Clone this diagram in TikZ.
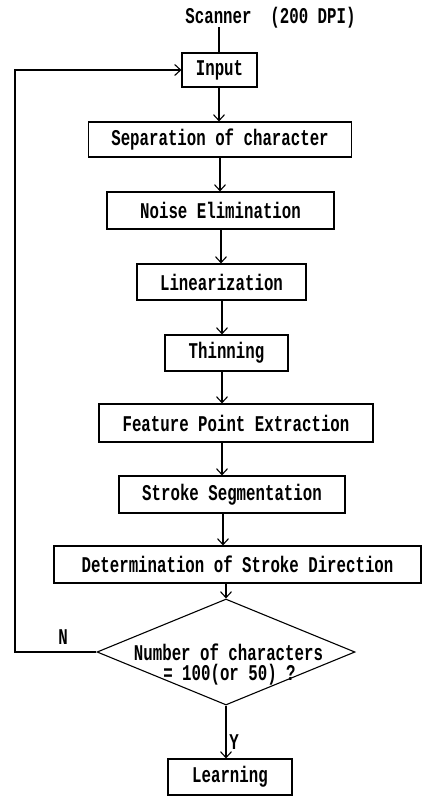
\documentclass[tikz,border=0pt]{standalone}
\usepackage{fontspec}
\setmainfont{Liberation Mono}[FakeStretch=0.7]
\usetikzlibrary{arrows.meta,shapes.geometric}
\tikzset{
  box/.style={draw, line width=1.1pt, inner sep=0pt, font=\fontsize{22.5}{17}\selectfont\bfseries},
  lbl/.style={inner sep=0pt, font=\fontsize{22.5}{19}\selectfont\bfseries},
  conn/.style={line width=1.1pt},
  arr/.style={conn, -{Straight Barb[length=6pt,width=11pt,line width=1.1pt]}}
}
\begin{document}
\begin{tikzpicture}[x=1pt,y=-1pt]
\useasboundingbox (0,0) rectangle (423,796);
\node[lbl] (scan) at (270.5,18) {Scanner\ \ (200 DPI)};
\node[box, minimum width=75, minimum height=34] (inp) at (219.5,70) {Input};
\node[box, minimum width=263, minimum height=35] (sep) at (220,139.5) {Separation of character};
\node[box, minimum width=227, minimum height=37] (noise) at (220.5,210.5) {Noise Elimination};
\node[box, minimum width=169, minimum height=36] (lin) at (221.5,282) {Linearization};
\node[box, minimum width=123, minimum height=36] (thin) at (226.5,353) {Thinning};
\node[box, minimum width=274, minimum height=38] (feat) at (236,423) {Feature Point Extraction};
\node[box, minimum width=226, minimum height=37] (strk) at (232,494.5) {Stroke Segmentation};
\node[box, minimum width=367, minimum height=37] (det) at (237.5,564.5) {Determination of Stroke Direction};
\node[draw, diamond, line width=1.1pt, inner sep=0pt, minimum width=258, minimum height=106] (dec) at (226,652) {};
\node[lbl, anchor=base] (dect1) at (228.5,660) {Number of characters};
\node[lbl, anchor=base] (dect2) at (229.5,680) {= 100(or 50) ?};
\node[box, minimum width=124, minimum height=36] (learn) at (230,777) {Learning};
\node[lbl] (nlab) at (63,637) {N};
\node[lbl] (ylab) at (234,742) {Y};
\coordinate (scanpt) at (219,27);
\coordinate (s1) at (219,0);
\coordinate (s2) at (220,0);
\coordinate (s3) at (221,0);
\coordinate (s4) at (222,0);
\coordinate (s5) at (223,0);
\coordinate (fb) at (15,0);
\draw[conn] (scanpt) -- (scanpt |- inp.north);
\draw[arr] (inp.south -| s1) -- (sep.north -| s1);
\draw[arr] (sep.south -| s2) -- (noise.north -| s2);
\draw[arr] (noise.south -| s3) -- (lin.north -| s3);
\draw[arr] (lin.south -| s4) -- (thin.north -| s4);
\draw[arr] (thin.south -| s4) -- (feat.north -| s4);
\draw[arr] (feat.south -| s4) -- (strk.north -| s4);
\draw[arr] (strk.south -| s5) -- (det.north -| s5);
\draw[arr] (det.south -| dec.north) -- (dec.north);
\draw[arr] (dec.south) -- (dec.south |- learn.north);
\draw[arr] (dec.west) -- (dec.west -| fb) -- (inp.west -| fb) -- (inp.west);
\end{tikzpicture}
\end{document}
